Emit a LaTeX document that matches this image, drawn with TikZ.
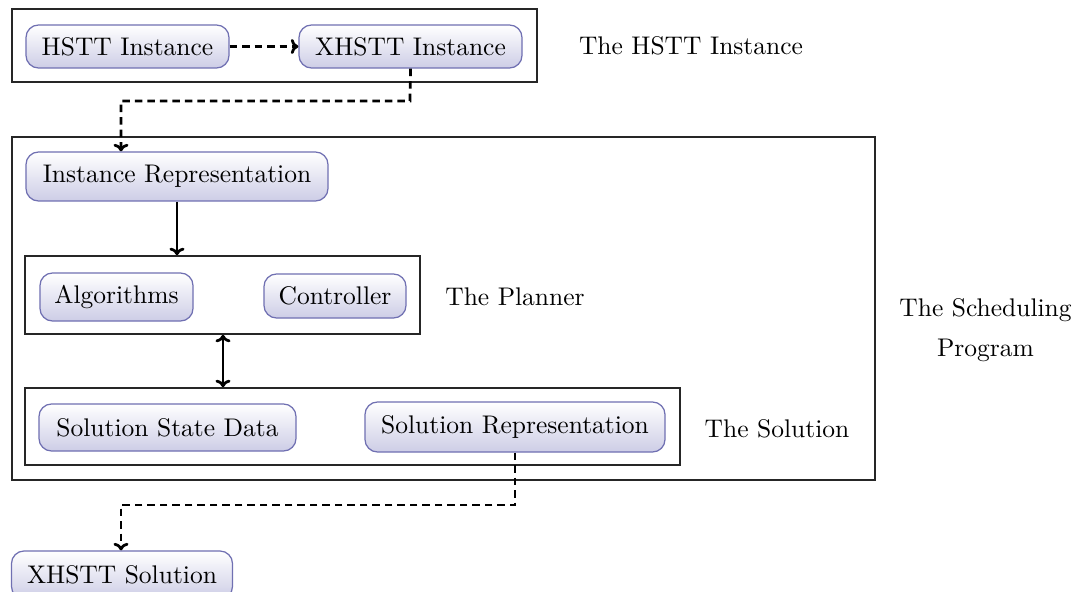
\documentclass[tikz,border=0pt]{standalone}
\usetikzlibrary{arrows.meta}
\definecolor{nodeedge}{RGB}{112,112,178}
\definecolor{nodefill}{RGB}{205,205,230}
\tikzset{
  comp/.style={rounded corners=5pt, draw=nodeedge, line width=0.5pt,
    top color=white, bottom color=nodefill, font=\fontsize{10.2}{12}\selectfont,
    minimum height=18pt, inner xsep=0pt, inner ysep=0pt},
  frame/.style={draw=black!85, line width=0.6pt},
  lbl/.style={font=\fontsize{10.2}{12}\selectfont, inner sep=0pt},
  flow/.style={line width=1.1pt, -{To[length=3pt,width=6pt]}},
  dataflow/.style={flow, dash pattern=on 3pt off 2pt},
}
\begin{document}
\begin{tikzpicture}[x=0.4pt, y=-0.4pt]
\useasboundingbox (0,0) rectangle (1078,592);
\fill[white] (0,0) rectangle (1078,592);

% input layer
\node[frame, minimum width=210pt, minimum height=29.2pt] (inbox) at (274.5,45.5) {};
\node[comp, minimum width=81.2pt, minimum height=17.2pt] (hstt) at (127.5,46.5) {HSTT Instance};
\node[comp, minimum width=89.2pt, minimum height=17.2pt] (xhstt) at (410.5,46.5) {XHSTT Instance};
\node[lbl] (inlbl) at (691,46) {The HSTT Instance};

% scheduling program
\node[frame, minimum width=345.2pt, minimum height=137.2pt] (prog) at (443.5,308.5) {};
\node[comp, minimum width=120.8pt, minimum height=19.6pt] (irep) at (177,176.5) {Instance Representation};

% planner
\node[frame, minimum width=158pt, minimum height=31.2pt] (planner) at (222.5,295) {};
\node[comp, minimum width=61.2pt, minimum height=19.2pt] (algo) at (116.5,297) {Algorithms};
\node[comp, minimum width=56.8pt, minimum height=17.6pt] (ctrl) at (335,296) {Controller};
\node[lbl] (planlbl) at (515,297) {The Planner};

% solution
\node[frame, minimum width=262pt, minimum height=30.8pt] (sol) at (352.5,426.5) {};
\node[comp, minimum width=102.8pt, minimum height=18.8pt] (ssd) at (167.5,427.5) {Solution State Data};
\node[comp, minimum width=120pt, minimum height=20pt] (srep) at (515,427) {Solution Representation};
\node[lbl] (sollbl) at (777,429) {The Solution};

\node[lbl, align=center] (proglbl) at (985.5,330) {The Scheduling\\[4pt]Program};

% output
\node[comp, minimum width=88.4pt, minimum height=19.2pt] (xsol) at (122,575) {XHSTT Solution};

% connectors
\coordinate (a1) at (410,101);
\coordinate (a2) at (121,101);
\coordinate (b1) at (515,505);
\coordinate (b2) at (121,505);
\draw[dataflow] (hstt.east) -- (xhstt.west);
\draw[dataflow] (xhstt.south) -- (a1) -- (a2) -- (a2 |- irep.north);
\draw[flow] (irep.south) -- (irep.south |- planner.north);
\draw[line width=1.1pt, {To[length=3pt,width=6pt]}-{To[length=3pt,width=6pt]}] (planner.south -| 223,0) -- (sol.north -| 223,0);
\draw[dataflow] (srep.south) -- (b1) -- (b2) -- (b2 |- xsol.north);
\end{tikzpicture}
\end{document}
